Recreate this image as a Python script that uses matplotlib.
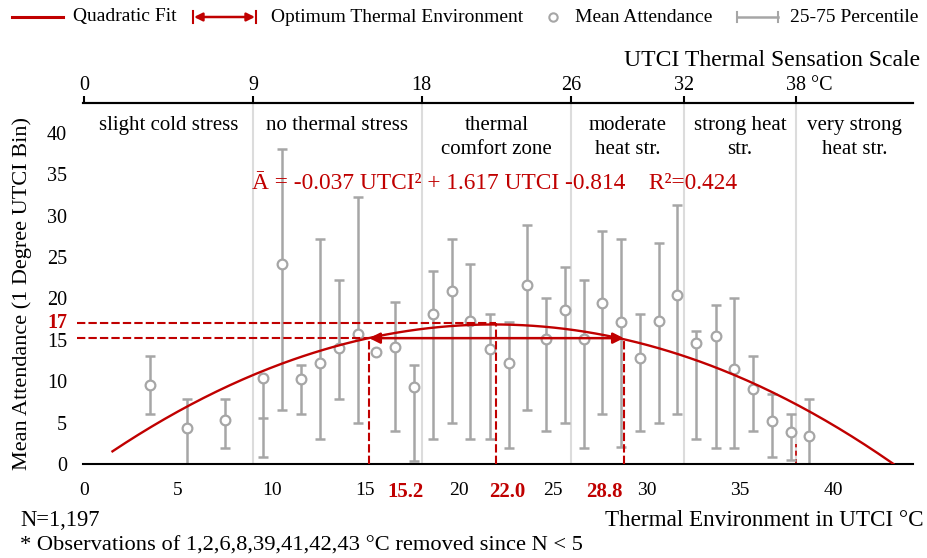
import numpy as np
import matplotlib.pyplot as plt
from matplotlib.lines import Line2D
from matplotlib.patches import FancyArrowPatch

plt.rcParams['font.family'] = ['Liberation Serif', 'DejaVu Serif']

# binned data (UTCI bin position, mean attendance, 25th and 75th percentile)
utci = [3.5, 5.5, 7.5, 9.55, 10.55, 11.55, 12.6, 13.6, 14.6, 15.55, 16.6,
        17.6, 18.6, 19.6, 20.6, 21.65, 22.65, 23.65, 24.65, 25.65, 26.65,
        27.65, 28.65, 29.65, 30.65, 31.65, 32.65, 33.7, 34.7, 35.7, 36.7,
        37.7, 38.7]
mean_att = [9.6, 4.35, 5.35, 10.4, 24.1, 10.3, 12.15, 14.05, 15.7, 13.5, 14.15,
            9.3, 18.1, 20.85, 17.3, 13.85, 12.15, 21.65, 15.1, 18.6, 15.1,
            19.4, 17.2, 12.75, 17.3, 20.45, 14.6, 15.4, 11.45, 9.1, 5.25,
            3.85, 3.35]
p25 = [6.0, 0.0, 1.9, 0.9, 6.5, 6.0, 3.0, 7.9, 5.0, np.nan, 4.0,
       0.4, 3.0, 5.0, 3.0, 3.0, 1.9, 6.5, 4.0, 5.0, 1.9,
       6.0, 2.0, 4.0, 5.0, 6.0, 3.0, 1.9, 1.9, 4.0, 0.9,
       0.5, 0.0]
p75 = [13.0, 7.9, 7.9, 10.4, 38.0, 12.0, 27.2, 22.2, 32.3, np.nan, 19.6,
       12.0, 23.3, 27.2, 24.2, 18.1, 17.2, 28.9, 20.1, 23.8, 22.2,
       28.2, 27.2, 18.1, 26.7, 31.3, 16.1, 19.2, 20.1, 13.05, 8.5,
       6.0, 7.9]
mid_cap_x = [9.55]
mid_cap_y = [5.5]

# quadratic fit  A = a*UTCI^2 + b*UTCI + c
fit_coef = [-0.037, 1.617, -0.814]
fit_range = [1.5, 43.19]

# optimum thermal environment
opt_low, opt_peak, opt_high = 15.2, 22.0, 28.8
opt_level = 15.2
peak_level = 17

# UTCI thermal sensation scale
zone_edges = [0, 9, 18, 26, 32, 38]
zone_labels = ['slight cold stress', 'no thermal stress', 'thermal\ncomfort zone',
               'moderate\nheat str.', 'strong heat\nstr.', 'very strong\nheat str.']
stub_x, stub_top = 38, 2.4

RED = '#c00000'
GRAY = '#a6a6a6'
LGRAY = '#dcdcdc'

W, H = 927, 558
fig = plt.figure(figsize=(W / 100, H / 100), dpi=100)


def px(x, y):
    return x / W, 1 - y / H


ax = fig.add_axes([82.5 / W, (H - 464) / H, (913.3 - 82.5) / W, (464 - 103) / H])
xmin, xmax = -0.1, 44.25
ax.set_xlim(xmin, xmax)
ax.set_ylim(0, 43.6)

# zone separators and labels
for b in zone_edges[1:]:
    ax.axvline(b, color=LGRAY, lw=1.5, zorder=0)
bounds = zone_edges + [xmax]
for i, lab in enumerate(zone_labels):
    ax.text((bounds[i] + bounds[i + 1]) / 2, 42.0, lab, ha='center', va='top',
            fontsize=15, linespacing=1.35)

# percentile whiskers and means
x = np.array(utci)
m = np.array(mean_att)
lo = np.array(p25)
hi = np.array(p75)
ok = ~np.isnan(lo)
ax.errorbar(x[ok], m[ok], yerr=[m[ok] - lo[ok], hi[ok] - m[ok]], fmt='none',
            ecolor=GRAY, elinewidth=1.8, capsize=3.8, capthick=1.8, zorder=2)
ax.plot(mid_cap_x, mid_cap_y, marker='_', ms=7.6, mew=1.8, color=GRAY, ls='none', zorder=2)
ax.plot(x, m, 'o', ms=7, mfc='white', mec=GRAY, mew=1.6, zorder=4)

# quadratic fit
xf = np.linspace(fit_range[0], fit_range[1], 300)
ax.plot(xf, np.polyval(fit_coef, xf), color=RED, lw=1.7, zorder=5)

# optimum markers
dash = dict(color=RED, lw=1.5, dashes=(4, 1.5), zorder=6)
ax.plot([xmin - 0.3, opt_peak], [peak_level, peak_level], clip_on=False, **dash)
ax.plot([xmin - 0.3, opt_low], [opt_level, opt_level], clip_on=False, **dash)
ax.plot([opt_low, opt_low], [0, opt_level], **dash)
ax.plot([opt_peak, opt_peak], [0, peak_level], **dash)
ax.plot([opt_high, opt_high], [0, opt_level], **dash)
ax.plot([stub_x, stub_x], [0, stub_top], color=RED, lw=1.2, dashes=(3, 2), zorder=1)
ax.add_patch(FancyArrowPatch((opt_high, opt_level), (opt_low, opt_level),
                             arrowstyle='<|-|>', mutation_scale=16, color=RED,
                             lw=1.8, shrinkA=0, shrinkB=0, zorder=6))

ax.text(21.9, 33.9, 'Ā = -0.037 UTCI² + 1.617 UTCI -0.814    R²=0.424',
        ha='center', va='center', color=RED, fontsize=16.8)

# axes styling
for s in ['left', 'right']:
    ax.spines[s].set_visible(False)
ax.spines['bottom'].set_linewidth(1.5)
ax.spines['top'].set_linewidth(1.5)
ax.set_yticks(range(0, 41, 5))
ax.tick_params(axis='y', length=0, pad=11, labelsize=14.5)
ax.set_xticks(range(0, 41, 5))
ax.set_xticks(range(0, 41, 10), minor=True)
ax.tick_params(axis='x', which='major', length=0, pad=13, labelsize=14)
ax.tick_params(axis='x', which='minor', length=5, width=1.5, direction='out')
ax.tick_params(axis='x', top=False)

ax.annotate('17', xy=(0, peak_level), xycoords=('axes fraction', 'data'),
            xytext=(-11, 0), textcoords='offset points', ha='right', va='center',
            color=RED, fontsize=14.5, fontweight='bold')
for v, off in zip([opt_low, opt_peak, opt_high], [26.5, 7.5, -13.7]):
    ax.annotate(f'{v:.1f}', xy=(v, 0), xycoords=('data', 'axes fraction'),
                xytext=(off, -13), textcoords='offset points', ha='center', va='top',
                color=RED, fontsize=15, fontweight='bold')

sec = ax.secondary_xaxis('top')
sec.set_xticks(zone_edges)
sec.set_xticklabels([str(v) for v in zone_edges])
sec.tick_params(length=5, width=1.5, direction='out', labelsize=14.5, pad=1)
sec.spines['top'].set_linewidth(1.5)
ax.annotate('°C', xy=(zone_edges[-1], 1), xycoords=('data', 'axes fraction'),
            xytext=(11, 5.5), textcoords='offset points', ha='left', va='bottom',
            fontsize=14.5)

# figure texts
fig.text(*px(22, 294), 'Mean Attendance (1 Degree UTCI Bin)', rotation=90,
         ha='center', va='center', fontsize=16)
fig.text(*px(920, 60), 'UTCI Thermal Sensation Scale', ha='right', va='center', fontsize=17)
fig.text(*px(20, 520), 'N=1,197', ha='left', va='center', fontsize=16.3)
fig.text(*px(924, 520), 'Thermal Environment in UTCI °C', ha='right', va='center', fontsize=16.7)
fig.text(*px(20, 546), '* Observations of 1,2,6,8,39,41,42,43 °C removed since N < 5',
         ha='left', va='center', fontsize=16.2)

# legend drawn in figure pixels
ly = 17
LFS = 14
fig.add_artist(Line2D(*zip(px(12, ly), px(63, ly)), color=RED, lw=2.2))
fig.text(*px(73, ly), 'Quadratic Fit', ha='left', va='center', fontsize=LFS)
for bx in (193, 256):
    fig.add_artist(Line2D(*zip(px(bx, ly - 6), px(bx, ly + 6)), color=RED, lw=1.5))
fig.add_artist(FancyArrowPatch(px(194, ly), px(255, ly), transform=fig.transFigure,
                               arrowstyle='<|-|>', mutation_scale=12, color=RED,
                               lw=1.8, shrinkA=0, shrinkB=0))
fig.text(*px(271, ly), 'Optimum Thermal Environment', ha='left', va='center', fontsize=LFS)
fig.add_artist(Line2D([px(553, ly)[0]], [px(553, ly)[1]], marker='o', ms=6,
                      mfc='white', mec=GRAY, mew=1.5))
fig.text(*px(575, ly), 'Mean Attendance', ha='left', va='center', fontsize=LFS)
fig.add_artist(Line2D(*zip(px(737, ly), px(778, ly)), color=GRAY, lw=1.8))
for bx in (737, 778):
    fig.add_artist(Line2D(*zip(px(bx, ly - 5), px(bx, ly + 5)), color=GRAY, lw=1.5))
fig.text(*px(790, ly), '25-75 Percentile', ha='left', va='center', fontsize=LFS)

fig.savefig('out.png', dpi=100)
